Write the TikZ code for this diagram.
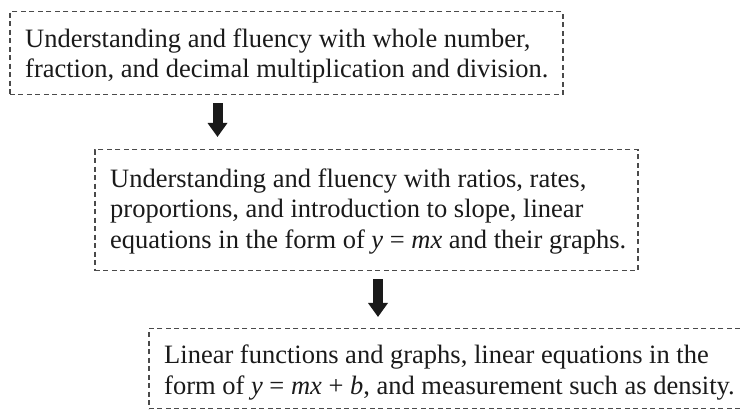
\documentclass[tikz,border=0pt]{standalone}
\usepackage{fontspec}
\setmainfont{Liberation Serif}
\usetikzlibrary{arrows.meta}
\definecolor{dashgray}{HTML}{4A4A4A}
\definecolor{arrowblack}{HTML}{1A1A1A}
\definecolor{textblack}{HTML}{1A1A1A}
\begin{document}
\begin{tikzpicture}[x=1pt,y=-1pt,
  dashbox/.style={draw=dashgray, line width=1.5pt, dash pattern=on 5pt off 3.5pt,
    rectangle, inner sep=0pt, anchor=north west},
  boxtext/.style={anchor=north west, inner sep=0pt, align=left, text=textblack,
    font=\fontsize{26.5}{30.5}\selectfont},
  blockarrow/.style={draw=arrowblack, line width=10pt,
    -{Triangle[width=19pt,length=14pt]}}
]
\useasboundingbox (0,0) rectangle (740,411);
\clip (0,0) rectangle (740,411);
\node[dashbox, minimum width=553pt, minimum height=83pt] (b1) at (9,11) {};
\node[dashbox, minimum width=543pt, minimum height=121pt] (b2) at (94,149) {};
\node[dashbox, minimum width=600pt, minimum height=80pt] (b3) at (148,328) {};
\node[boxtext] (t1) at (25,28.4) {Understanding and fluency with whole number,\\fraction, and decimal multiplication and division.};
\node[boxtext] (t2) at (110,168.4) {Understanding and fluency with ratios, rates,\\proportions, and introduction to slope, linear\\equations in the form of \textit{y} = \textit{mx} and their graphs.};
\node[boxtext] (t3) at (164,345) {Linear functions and graphs, linear equations in the\\form of \textit{y} = \textit{mx} + \textit{b}, and measurement such as density.};
\coordinate (ax1) at (217.5,0);
\coordinate (ax2) at (378,0);
\draw[blockarrow, shorten <=8pt, shorten >=12pt] (b1.south -| ax1) -- (b2.north -| ax1);
\draw[blockarrow, shorten <=8pt, shorten >=11pt] (b2.south -| ax2) -- (b3.north -| ax2);
\end{tikzpicture}
\end{document}
